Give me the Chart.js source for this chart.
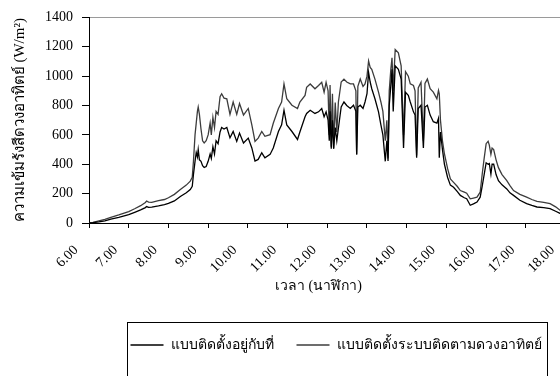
<!DOCTYPE html>
<html>
<head>
<meta charset="utf-8">
<script src="https://cdn.jsdelivr.net/npm/chart.js@4"></script>
<style>
  html, body { margin: 0; padding: 0; background: #fff; }
  #wrap { width: 560px; height: 376px; overflow: hidden; }
  canvas { display: block; }
</style>
</head>
<body>
<div id="wrap"><canvas id="solarChart" width="672" height="400"></canvas></div>
<script>
// time of day (hours) and irradiance (W/m2)
const times = [
  6.00, 6.10, 6.25, 6.40, 6.55, 6.75, 7.00, 7.15, 7.30, 7.42, 7.45, 7.50, 7.58, 7.75, 7.90,
  8.00, 8.15, 8.30, 8.45, 8.55, 8.60, 8.63, 8.67, 8.70, 8.73, 8.75, 8.78, 8.82, 8.86, 8.90,
  8.95, 9.00, 9.05, 9.08, 9.12, 9.16, 9.20, 9.25, 9.30, 9.34, 9.40, 9.47, 9.55, 9.63, 9.72,
  9.79, 9.89, 10.01, 10.10, 10.18, 10.26, 10.35, 10.43, 10.56, 10.64, 10.77, 10.85, 10.91, 10.98, 11.11,
  11.25, 11.31, 11.44, 11.48, 11.57, 11.69, 11.78, 11.86, 11.92, 11.97, 12.02, 12.05, 12.07, 12.10, 12.13,
  12.16, 12.20, 12.24, 12.28, 12.35, 12.42, 12.49, 12.58, 12.66, 12.72, 12.74, 12.77, 12.83, 12.90, 12.95,
  13.00, 13.04, 13.08, 13.12, 13.20, 13.29, 13.35, 13.40, 13.46, 13.50, 13.53, 13.56, 13.60, 13.63, 13.66,
  13.71, 13.79, 13.86, 13.92, 13.97, 14.04, 14.09, 14.17, 14.21, 14.25, 14.29, 14.36, 14.42, 14.46, 14.52,
  14.59, 14.67, 14.76, 14.80, 14.82, 14.85, 14.90, 14.95, 15.03, 15.10, 15.18, 15.27, 15.35, 15.45, 15.51,
  15.60, 15.68, 15.77, 15.85, 15.90, 15.95, 16.00, 16.05, 16.08, 16.12, 16.15, 16.19, 16.25, 16.31, 16.40,
  16.52, 16.60, 16.69, 16.85, 17.02, 17.15, 17.28, 17.45, 17.61, 17.75, 17.86, 18.00, 18.10
];
const fixedMount = [
  0, 2, 8, 15, 26, 38, 57, 73, 90, 105, 112, 106, 108, 116, 125,
  133, 150, 180, 206, 228, 250, 330, 420, 480, 450, 500, 430, 420, 390, 378,
  385, 420, 470, 440, 520, 470, 560, 540, 620, 650, 640, 650, 580, 623, 556,
  612, 545, 578, 511, 422, 433, 478, 444, 467, 511, 623, 668, 768, 668, 623,
  569, 620, 724, 746, 768, 746, 757, 780, 724, 757, 700, 560, 760, 505, 700,
  505, 650, 560, 645, 790, 824, 800, 780, 802, 760, 467, 790, 802, 780, 824,
  880, 1025, 960, 914, 846, 757, 668, 600, 420, 560, 422, 800, 936, 1047, 760,
  1070, 1047, 980, 511, 890, 870, 824, 757, 735, 444, 780, 802, 511, 790, 802,
  735, 690, 680, 713, 444, 620, 500, 400, 310, 258, 243, 215, 188, 172, 165,
  121, 130, 143, 176, 250, 330, 410, 400, 405, 333, 400, 400, 330, 288, 260,
  232, 205, 188, 155, 132, 120, 109, 104, 98, 80, 65, 50, 40
];
const tracking = [
  0, 4, 14, 24, 38, 55, 78, 97, 118, 140, 150, 142, 140, 152, 160,
  172, 195, 228, 258, 285, 312, 420, 600, 680, 760, 790, 740, 640, 560, 545,
  560, 600, 680, 600, 720, 650, 760, 740, 860, 880, 850, 846, 740, 824, 740,
  813, 735, 780, 668, 556, 578, 623, 590, 601, 679, 780, 824, 947, 846, 802,
  780, 824, 869, 924, 947, 914, 936, 958, 891, 958, 900, 600, 940, 520, 880,
  511, 820, 620, 824, 960, 980, 960, 947, 947, 900, 467, 930, 980, 930, 947,
  1000, 1103, 1060, 1047, 980, 891, 824, 760, 560, 700, 440, 900, 1047, 1125, 900,
  1181, 1159, 1070, 600, 1030, 1000, 947, 936, 900, 460, 920, 958, 560, 950, 980,
  914, 891, 846, 903, 880, 700, 560, 470, 370, 300, 277, 250, 221, 210, 203,
  165, 170, 176, 210, 330, 440, 540, 556, 530, 467, 510, 500, 430, 377, 330,
  288, 255, 221, 195, 176, 160, 147, 140, 132, 110, 87, 70, 55
];
const seriesNames = ["แบบติดตั้งอยู่กับที่", "แบบติดตั้งระบบติดตามดวงอาทิตย์"];
const hourTicks = [6, 7, 8, 9, 10, 11, 12, 13, 14, 15, 16, 17, 18, 19, 20];
const yTicks = [0, 200, 400, 600, 800, 1000, 1200, 1400];
const xTitle = "เวลา (นาฬิกา)";
const yTitle = "ความเข้มรังสีดวงอาทิตย์ (W/m²)";

const serif = "'Liberation Serif', 'Times New Roman', serif";
const visibleRight = 548; // the page only shows the left 560px of the canvas

// Excel style frame round the legend (bottom edge falls outside the picture)
const legendFrame = {
    id: "legendFrame",
    afterDraw(chart) {
        const lg = chart.legend;
        if (!lg || !lg.legendHitBoxes.length) return;
        const boxes = lg.legendHitBoxes;
        const last = boxes[boxes.length - 1];
        const left = boxes[0].left - 4;
        const right = last.left + last.width + 5;
        const top = boxes[0].top + boxes[0].height / 2 - 23;
        const ctx = chart.ctx;
        ctx.save();
        ctx.strokeStyle = "#000";
        ctx.lineWidth = 1;
        ctx.strokeRect(Math.round(left) + 0.5, Math.round(top) + 0.5, Math.round(right - left), 80);
        ctx.restore();
    }
};

// x axis title centred under the visible part of the axis
const xAxisTitle = {
    id: "xAxisTitle",
    afterDraw(chart) {
        const ctx = chart.ctx;
        const area = chart.chartArea;
        ctx.save();
        ctx.fillStyle = "#000";
        ctx.font = "14px " + serif;
        ctx.textAlign = "center";
        ctx.textBaseline = "middle";
        ctx.fillText(xTitle, (area.left + visibleRight) / 2, area.bottom + 63);
        ctx.restore();
    }
};

new Chart(document.getElementById("solarChart"), {
    type: "line",
    data: {
        datasets: [
            {
                label: seriesNames[0],
                data: times.map((t, i) => ({ x: t, y: fixedMount[i] })),
                borderColor: "#000",
                backgroundColor: "#000",
                borderWidth: 1.3,
                pointRadius: 0,
                tension: 0
            },
            {
                label: seriesNames[1],
                data: times.map((t, i) => ({ x: t, y: tracking[i] })),
                borderColor: "#3c3c3c",
                backgroundColor: "#3c3c3c",
                borderWidth: 1.3,
                pointRadius: 0,
                tension: 0
            }
        ]
    },
    options: {
        responsive: false,
        animation: false,
        layout: { padding: { top: 9, left: 0, right: 0, bottom: 38 } },
        plugins: {
            tooltip: { enabled: false },
            legend: {
                position: "bottom",
                labels: {
                    color: "#000",
                    font: { family: serif, size: 14 },
                    usePointStyle: true,
                    pointStyle: "line",
                    pointStyleWidth: 33,
                    padding: 23
                }
            }
        },
        scales: {
            x: {
                type: "linear",
                min: 6,
                max: 20.68,
                afterBuildTicks: scale => { scale.ticks = hourTicks.map(v => ({ value: v })); },
                afterFit: scale => { scale.height = 92; },
                border: { color: "#000", width: 1 },
                grid: { drawOnChartArea: false, tickLength: 5, tickColor: "#000" },
                ticks: {
                    autoSkip: false,
                    minRotation: 45,
                    maxRotation: 45,
                    padding: 14,
                    labelOffset: -13,
                    color: "#000",
                    font: { family: serif, size: 14 },
                    callback: v => v.toFixed(2)
                }
            },
            y: {
                min: 0,
                max: 1400,
                afterBuildTicks: scale => { scale.ticks = yTicks.map(v => ({ value: v })); },
                afterFit: scale => { scale.width = 89; },
                border: { color: "#000", width: 1 },
                grid: {
                    tickLength: 7,
                    tickColor: "#000",
                    color: c => (c.tick && c.tick.value === 1400 ? "#9a9a9a" : "rgba(0,0,0,0)")
                },
                ticks: {
                    padding: 9,
                    color: "#000",
                    font: { family: serif, size: 14 },
                    callback: v => String(v)
                },
                title: {
                    display: true,
                    text: yTitle,
                    color: "#000",
                    font: { family: serif, size: 15 },
                    padding: { top: 11, bottom: 0 }
                }
            }
        }
    },
    plugins: [legendFrame, xAxisTitle]
});
</script>
</body>
</html>
